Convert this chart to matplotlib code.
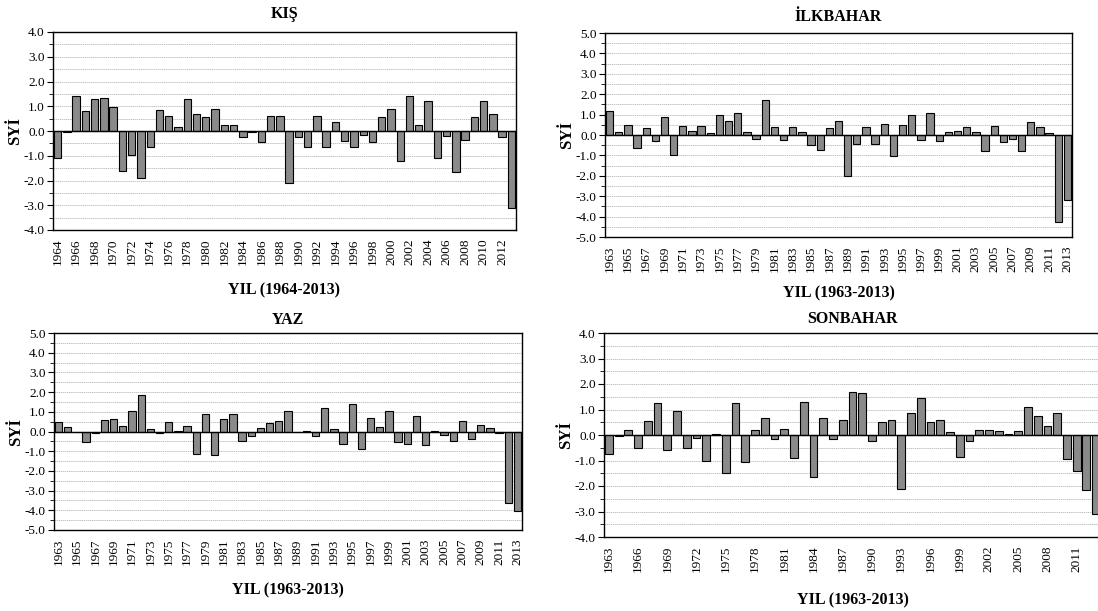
import numpy as np
import matplotlib
matplotlib.use("Agg")
import matplotlib.pyplot as plt
from matplotlib.ticker import MultipleLocator

plt.rcParams['font.family'] = ['Liberation Serif', 'DejaVu Serif']

# KIŞ 1964-2013
kis_years = list(range(1964, 2014))
kis = [-1.1, -0.05, 1.4, 0.8, 1.3, 1.35, 0.95, -1.6, -0.95, -1.9,
       -0.65, 0.85, 0.6, 0.15, 1.3, 0.7, 0.55, 0.9, 0.25, 0.25,
       -0.25, -0.05, -0.45, 0.6, 0.6, -2.1, -0.25, -0.65, 0.6, -0.65,
       0.35, -0.4, -0.65, -0.15, -0.45, 0.55, 0.9, -1.2, 1.4, 0.25,
       1.2, -1.1, -0.2, -1.65, -0.35, 0.55, 1.2, 0.7, -0.25, -3.1]

# İLKBAHAR 1963-2013
ilk_years = list(range(1963, 2014))
ilkbahar = [1.2, 0.15, 0.5, -0.65, 0.35, -0.3, 0.9, -1.0, 0.45, 0.2,
            0.45, 0.1, 1.0, 0.7, 1.1, 0.15, -0.2, 1.7, 0.4, -0.25,
            0.4, 0.15, -0.5, -0.75, 0.35, 0.7, -2.0, -0.45, 0.4, -0.45,
            0.55, -1.05, 0.5, 1.0, -0.25, 1.1, -0.3, 0.15, 0.2, 0.4,
            0.15, -0.8, 0.45, -0.35, -0.2, -0.8, 0.65, 0.4, 0.1, -4.25,
            -3.2]

# YAZ 1963-2013
yaz_years = list(range(1963, 2014))
yaz = [0.5, 0.25, -0.05, -0.55, -0.1, 0.6, 0.65, 0.3, 1.05, 1.85,
       0.15, -0.1, 0.5, 0.05, 0.3, -1.15, 0.9, -1.2, 0.65, 0.9,
       -0.5, -0.25, 0.2, 0.45, 0.55, 1.05, -0.05, 0.05, -0.25, 1.2,
       0.15, -0.65, 1.4, -0.9, 0.7, 0.25, 1.05, -0.55, -0.65, 0.8,
       -0.7, 0.05, -0.2, -0.5, 0.55, -0.4, 0.35, 0.2, -0.1, -3.65,
       -4.05]

# SONBAHAR 1963-2013
son_years = list(range(1963, 2014))
sonbahar = [-0.75, -0.05, 0.2, -0.5, 0.55, 1.25, -0.6, 0.95, -0.5, -0.1,
            -1.0, 0.05, -1.5, 1.25, -1.05, 0.2, 0.65, -0.15, 0.25, -0.9,
            1.3, -1.65, 0.65, -0.15, 0.6, 1.7, 1.65, -0.25, 0.5, 0.6,
            -2.1, 0.85, 1.45, 0.5, 0.6, 0.1, -0.85, -0.25, 0.2, 0.2,
            0.15, 0.05, 0.15, 1.1, 0.75, 0.35, 0.85, -0.95, -1.4, -2.15,
            -3.1]

W, H = 1098, 611
fig = plt.figure(figsize=(W / 100, H / 100), dpi=100)


def panel(box, years, vals, title, xlabel, ylim, step, title_y, xlabel_y):
    l, t, r, b = box
    ax = fig.add_axes([l / W, 1 - b / H, (r - l) / W, (b - t) / H])
    x = np.arange(len(years))
    ax.bar(x, vals, width=0.8, color='#8a8a8a', edgecolor='black', linewidth=0.8, zorder=3)
    ax.axhline(0, color='black', linewidth=1.0, zorder=4)
    ax.set_xlim(-0.5, len(years) - 0.5)
    ax.set_ylim(*ylim)
    ax.yaxis.set_major_locator(MultipleLocator(1))
    ax.yaxis.set_minor_locator(MultipleLocator(0.5))
    ax.set_yticklabels([f'{v:.1f}' for v in ax.get_yticks()], fontsize=9.5)
    ax.grid(axis='y', which='both', color='#aaaaaa', linestyle=(0, (2, 1)), linewidth=0.5, zorder=0)
    idx = x[::step]
    ax.set_xticks(idx)
    ax.set_xticklabels([str(years[i]) for i in idx], rotation=90, fontsize=9.5)
    ax.tick_params(axis='x', length=0, pad=6)
    ax.tick_params(axis='y', which='major', length=4, direction='out', pad=2)
    ax.tick_params(axis='y', which='minor', length=3, direction='out')
    for s in ax.spines.values():
        s.set_linewidth(1.0)
    cx = (l + r) / 2
    fig.text(cx / W, 1 - title_y / H, title, ha='center', va='center', fontsize=11.5, fontweight='bold')
    fig.text(cx / W, 1 - xlabel_y / H, xlabel, ha='center', va='center', fontsize=11.5, fontweight='bold')
    fig.text((l - 38) / W, 1 - (t + b) / 2 / H, 'SYİ', rotation=90, ha='center', va='center',
             fontsize=12, fontweight='bold')
    return ax


panel((53, 32, 516, 230), kis_years, kis, 'KIŞ', 'YIL (1964-2013)', (-4, 4), 2, 14, 290)
panel((605, 33, 1072, 237), ilk_years, ilkbahar, 'İLKBAHAR', 'YIL (1963-2013)', (-5, 5), 2, 17, 293)
panel((54, 333, 522, 530), yaz_years, yaz, 'YAZ', 'YIL (1963-2013)', (-5, 5), 2, 320, 590)
panel((604, 333, 1101, 537), son_years, sonbahar, 'SONBAHAR', 'YIL (1963-2013)', (-4, 4), 3, 319, 600)

fig.savefig('out.png', dpi=100)
